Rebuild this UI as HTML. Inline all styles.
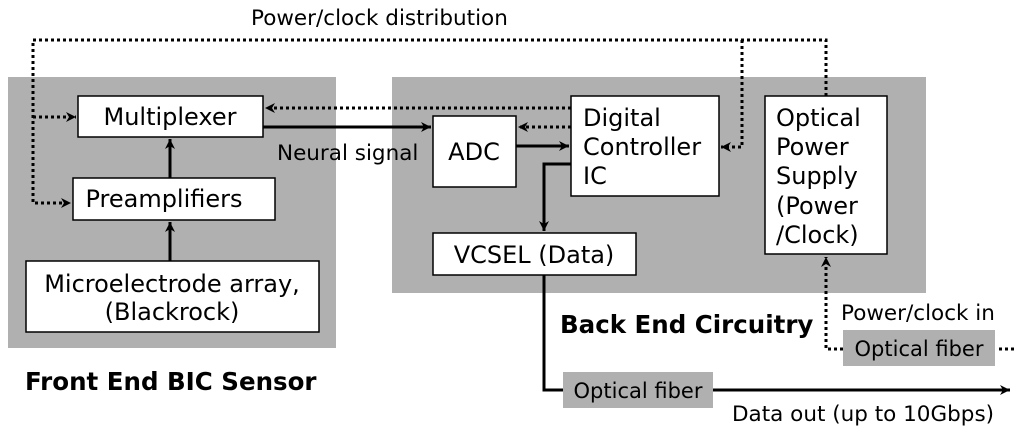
<!DOCTYPE html>
<html><head><meta charset="utf-8"><style>
html,body{margin:0;padding:0;background:#fff;width:1024px;height:435px;overflow:hidden}
text{font-family:"DejaVu Sans","Liberation Sans",sans-serif;fill:#000}
</style></head><body>
<svg width="1024" height="435" viewBox="0 0 1024 435" xmlns="http://www.w3.org/2000/svg">
<defs>
<marker id="a" viewBox="0 0 12 12" refX="11" refY="6" markerWidth="12" markerHeight="12" markerUnits="userSpaceOnUse" orient="auto">
<path d="M1,1 L11,6 L1,11 L4,6 Z" fill="#000"/></marker>
</defs>
<rect x="8" y="77" width="328" height="271" fill="#b0b0b0"/>
<rect x="392" y="77" width="534" height="216" fill="#b0b0b0"/>
<rect x="563" y="372" width="150" height="36" fill="#b0b0b0"/>
<rect x="843" y="330" width="152" height="36" fill="#b0b0b0"/>
<g fill="#fff" stroke="#000" stroke-width="1.5">
<rect x="78" y="96" width="185" height="41"/>
<rect x="73" y="178" width="202" height="42"/>
<rect x="26" y="261" width="293" height="71"/>
<rect x="433" y="116" width="83" height="71"/>
<rect x="571" y="96" width="148" height="100"/>
<rect x="765" y="96" width="122" height="158"/>
<rect x="433" y="233" width="203" height="42"/>
</g>
<g stroke="#000" stroke-width="3" fill="none">
<path d="M170 261 V222" marker-end="url(#a)"/>
<path d="M170 178 V139" marker-end="url(#a)"/>
<path d="M263 127 H431" marker-end="url(#a)"/>
<path d="M516 146 H569" marker-end="url(#a)"/>
<path d="M571 164 H544 V231" marker-end="url(#a)"/>
<path d="M544 275 V390 H563"/>
<path d="M713 390 H1010" marker-end="url(#a)"/>
</g>
<g stroke="#000" stroke-width="3" fill="none" stroke-dasharray="3 3">
<path d="M826 96 V40 H33 V203 H71" marker-end="url(#a)"/>
<path d="M33 117 H76" marker-end="url(#a)"/>
<path d="M742 40 V147 H721" marker-end="url(#a)"/>
<path d="M571 108 H265" marker-end="url(#a)"/>
<path d="M571 127 H518" marker-end="url(#a)"/>
<path d="M843 349 H826 V257" marker-end="url(#a)"/>
<path d="M999 349 H1016"/>
</g>
<g font-size="24">
<text x="170" y="125" text-anchor="middle">Multiplexer</text>
<text x="164" y="207" text-anchor="middle">Preamplifiers</text>
<text x="172" y="292" text-anchor="middle">Microelectrode array,</text>
<text x="172" y="320" text-anchor="middle">(Blackrock)</text>
<text x="474" y="160" text-anchor="middle">ADC</text>
<text x="583" y="126">Digital</text>
<text x="583" y="155">Controller</text>
<text x="583" y="184">IC</text>
<text x="776" y="126">Optical</text>
<text x="776" y="155">Power</text>
<text x="776" y="184">Supply</text>
<text x="776" y="214">(Power</text>
<text x="776" y="243">/Clock)</text>
<text x="534" y="263" text-anchor="middle">VCSEL (Data)</text>
</g>
<g font-size="21">
<text x="638" y="398" text-anchor="middle">Optical fiber</text>
<text x="919" y="356" text-anchor="middle">Optical fiber</text>
</g>
<g font-size="21.5">
<text x="251" y="25">Power/clock distribution</text>
<text x="277" y="160">Neural signal</text>
<text x="841" y="320">Power/clock in</text>
<text x="732" y="421">Data out (up to 10Gbps)</text>
</g>
<g font-size="24.5" font-weight="bold">
<text x="560" y="333">Back End Circuitry</text>
<text x="25" y="390">Front End BIC Sensor</text>
</g>
</svg>
</body></html>
